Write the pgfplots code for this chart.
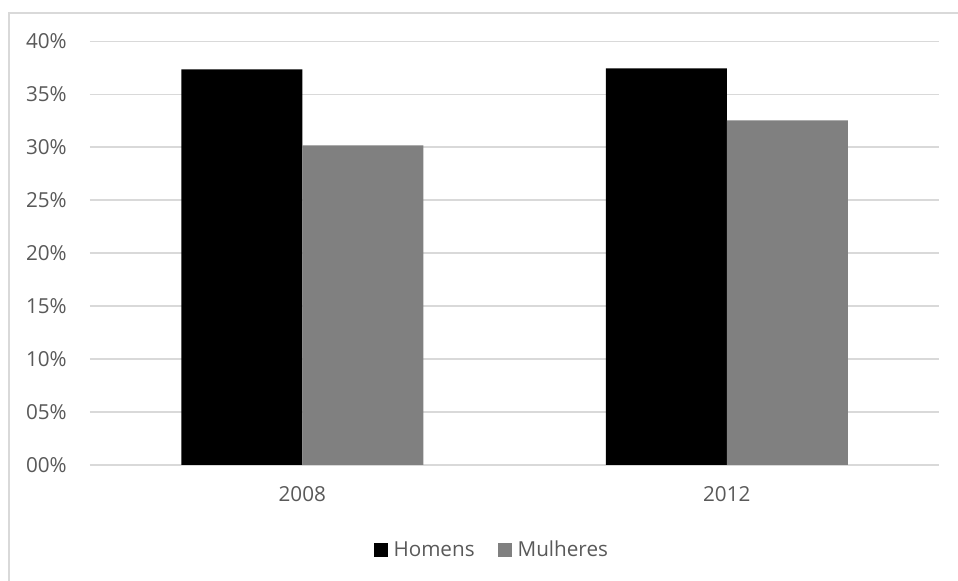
\documentclass[border=0pt]{standalone}
\usepackage{fontspec}
\setmainfont{Open Sans}
\usepackage{pgfplots}
\pgfplotsset{compat=1.18}
\definecolor{txt}{HTML}{595959}
\definecolor{gridgray}{HTML}{D9D9D9}
\definecolor{women}{HTML}{808080}
\begin{document}
\begin{tikzpicture}
% canvas and outer frame
\useasboundingbox (0pt,0pt) rectangle (718.5pt,435.75pt);
\draw[gridgray, line width=1.2pt] (6.75pt,0pt) -- (6.75pt,426pt) -- (718.5pt,426pt);
\begin{axis}[
  at={(67.5pt,87pt)}, anchor=south west, scale only axis,
  width=636.75pt, height=317.625pt,
  ybar=0pt, bar width=90.75pt,
  xmin=-0.5, xmax=1.5, ymin=0, ymax=40,
  xtick={0,1}, xticklabels={2008,2012},
  ytick={0,5,...,40},
  yticklabels={00\%,05\%,10\%,15\%,20\%,25\%,30\%,35\%,40\%},
  axis line style={draw=none}, major tick length=0pt,
  ymajorgrids, grid style={gridgray, line width=1.4pt},
  tick label style={font=\fontsize{15.5}{18}\selectfont, text=txt, inner sep=0pt},
  yticklabel style={anchor=east, xshift=-17.25pt},
  xticklabel style={anchor=north, yshift=-16pt},
  legend columns=2,
  legend style={draw=none, fill=none, at={(axis description cs:0.472,-0.2)}, anchor=center,
    font=\fontsize{15.5}{18}\selectfont, text=txt, nodes={inner sep=0pt},
    /tikz/every odd column/.append style={column sep=4.5pt},
    /tikz/every even column/.append style={column sep=17.25pt}},
  legend image code/.code={\fill[#1] (0pt,-5.25pt) rectangle (10.5pt,5.25pt);},
]
\addplot[fill=black, draw=none] coordinates {(0,37.36) (1,37.45)};
\addplot[fill=women, draw=none] coordinates {(0,30.18) (1,32.54)};
\legend{Homens, Mulheres}
\end{axis}
\end{tikzpicture}
\end{document}
